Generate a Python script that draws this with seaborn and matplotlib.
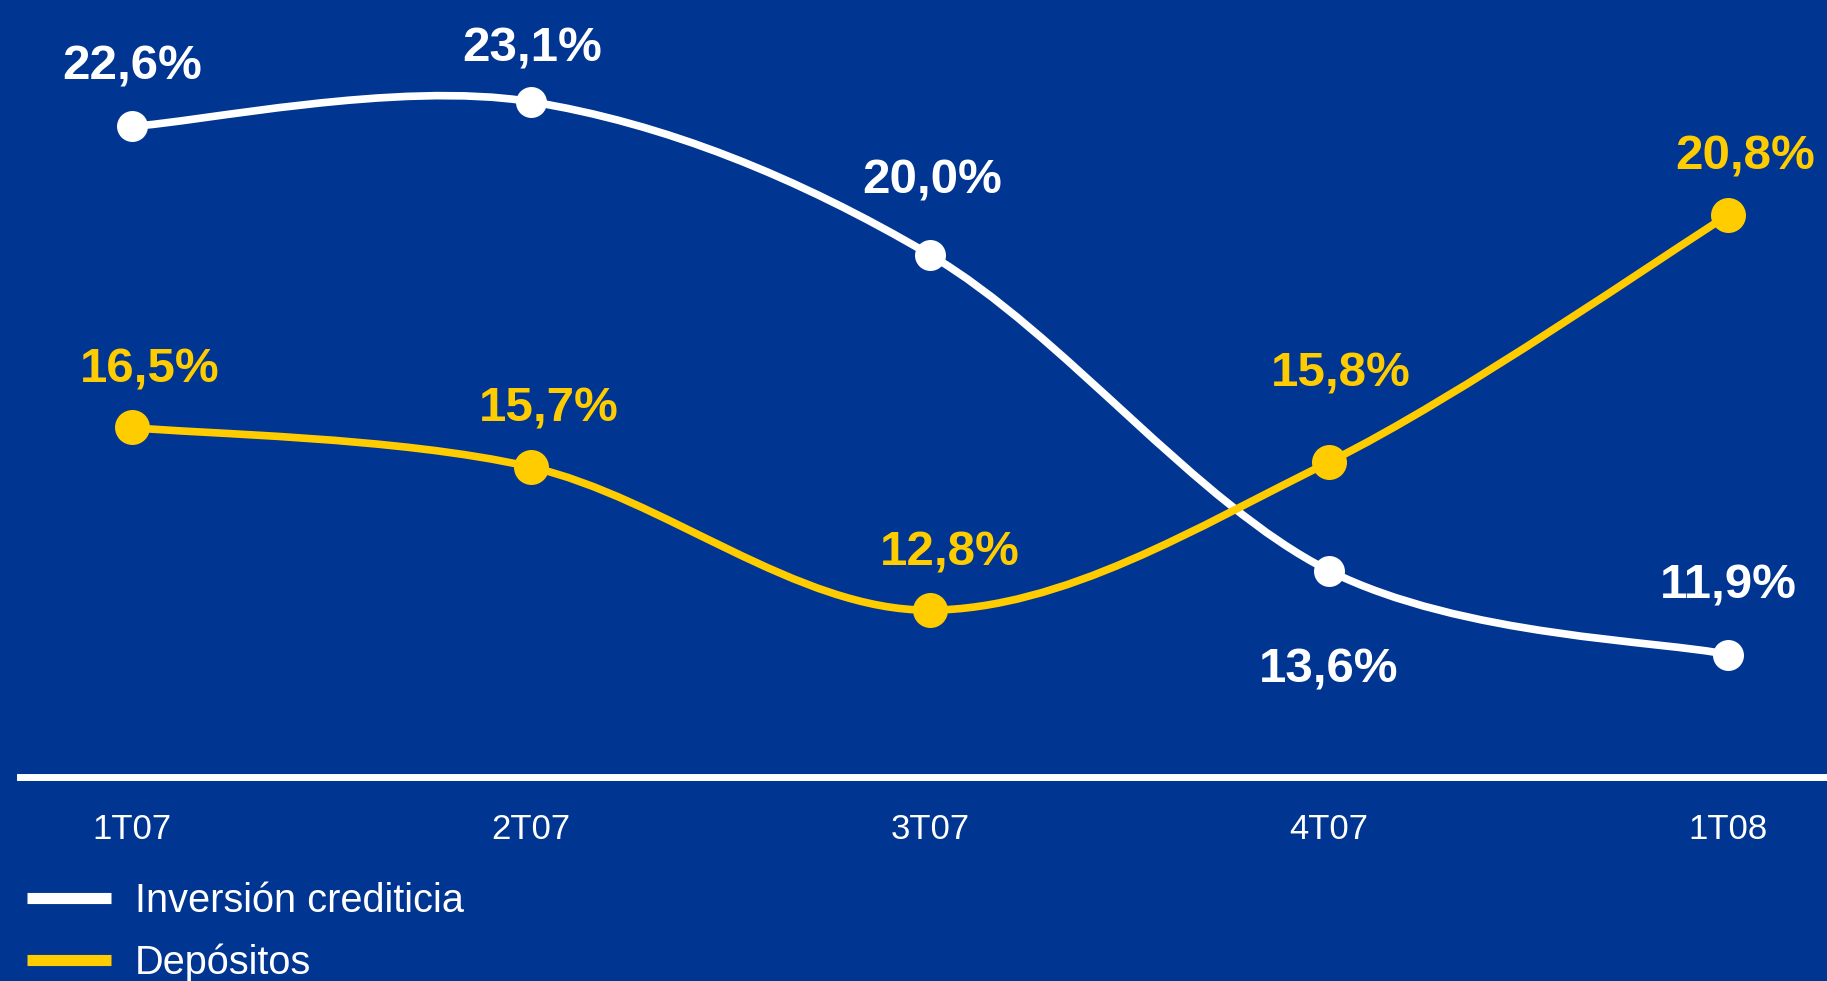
import matplotlib
matplotlib.use("Agg")
import matplotlib.pyplot as plt
import seaborn as sns
import numpy as np
import pandas as pd
from matplotlib.path import Path
from matplotlib.patches import PathPatch
from matplotlib.lines import Line2D

# ---- data ----
quarters = ["1T07", "2T07", "3T07", "4T07", "1T08"]
inversion = [22.6, 23.1, 20.0, 13.6, 11.9]
depositos = [16.5, 15.7, 12.8, 15.8, 20.8]
series_names = ["Inversión crediticia", "Depósitos"]

# ---- style ----
BG = "#003591"
WHITE = "#FFFFFF"
YELLOW = "#FFCC00"

sns.set_theme(style="white")
plt.rcParams["font.family"] = ["Liberation Sans", "DejaVu Sans"]

fig = plt.figure(figsize=(18.27, 9.81), dpi=100, facecolor=BG)
ax = fig.add_axes([20 / 1827, 1 - 776.5 / 981, 1 - 20 / 1827, 776.5 / 981])
ax.set_facecolor(BG)

x = np.arange(len(quarters))
df = pd.DataFrame({"x": np.concatenate([x, x]),
                   "v": inversion + depositos,
                   "serie": [series_names[0]] * 5 + [series_names[1]] * 5})


def smooth_path(xs, ys):
    pts = np.column_stack([xs, ys]).astype(float)
    n = len(pts)
    verts = [pts[0]]
    codes = [Path.MOVETO]
    for i in range(n - 1):
        p_prev = pts[i - 1] if i > 0 else pts[i]
        p0 = pts[i]
        p1 = pts[i + 1]
        p_next = pts[i + 2] if i + 2 < n else pts[i + 1]
        c1 = p0 + (p1 - p_prev) / 6.0
        c2 = p1 - (p_next - p0) / 6.0
        verts += [c1, c2, p1]
        codes += [Path.CURVE4] * 3
    return Path(verts, codes)


styles = {
    series_names[0]: dict(color=WHITE, size=22.3, z=3),
    series_names[1]: dict(color=YELLOW, size=25.2, z=4),
}

for name in series_names:
    st = styles[name]
    sub = df[df["serie"] == name]
    patch = PathPatch(smooth_path(sub["x"].values, sub["v"].values),
                      facecolor="none", edgecolor=st["color"], lw=5.5,
                      capstyle="round", joinstyle="round", zorder=st["z"])
    ax.add_patch(patch)
    sns.scatterplot(data=sub, x="x", y="v", ax=ax, color=st["color"],
                    marker="o", s=st["size"] ** 2,
                    linewidth=0, zorder=st["z"] + 0.5, legend=False)

# data labels (offsets in pixels, to text baseline)
inv_offsets = [(0, 46.5), (1, 40.3), (2.5, 61.6), (0, -111.7), (0, 56)]
dep_offsets = [(17.5, 45), (17.5, 45), (20, 45), (12, 76), (17.5, 45.7)]
for vals, offs, col in [(inversion, inv_offsets, WHITE), (depositos, dep_offsets, YELLOW)]:
    for i, (v, (dx, dy)) in enumerate(zip(vals, offs)):
        ax.annotate(f"{v:.1f}%".replace(".", ","), xy=(i, v), xytext=(dx, dy),
                    textcoords="offset pixels", ha="center", va="baseline",
                    fontsize=35.5, fontweight="bold", color=col, zorder=6)

# axes
ax.set_xlim(-0.28, 4.248)
ax.set_ylim(9.43, 25.16)
ax.set_xticks(x)
ax.set_xticklabels(quarters)
ax.set_yticks([])
ax.set_xlabel("")
ax.set_ylabel("")
ax.tick_params(axis="x", length=0, pad=26, labelsize=25, labelcolor=WHITE)
for s in ["top", "left", "right"]:
    ax.spines[s].set_visible(False)
ax.spines["bottom"].set_color(WHITE)
ax.spines["bottom"].set_linewidth(5)

# legend
handles = [Line2D([], [], color=WHITE, lw=8, solid_capstyle="butt"),
           Line2D([], [], color=YELLOW, lw=8, solid_capstyle="butt")]
leg = fig.legend(handles, series_names, loc="upper left",
                 bbox_to_anchor=(27 / 1827, 1 - 882 / 981), frameon=False,
                 fontsize=28.6, handlelength=2.11, handletextpad=0.6,
                 labelspacing=0.585, borderaxespad=0, borderpad=0)
for t in leg.get_texts():
    t.set_color(WHITE)

fig.savefig("out.png", dpi=100, facecolor=BG)
